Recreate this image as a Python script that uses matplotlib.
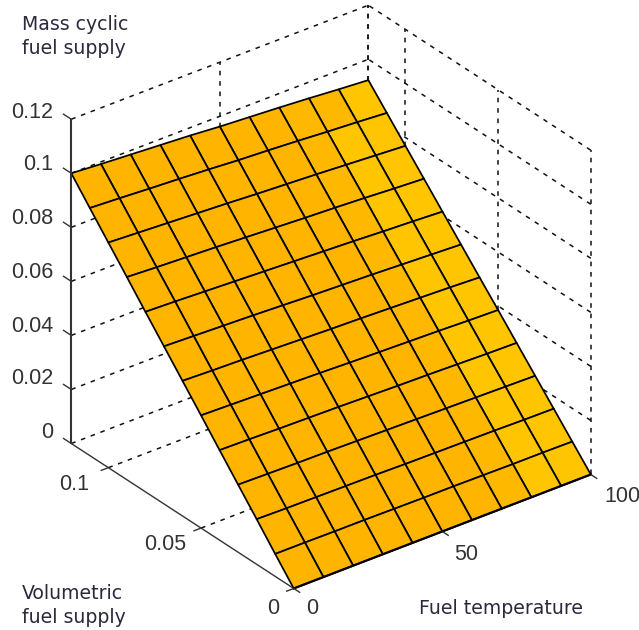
import numpy as np
import matplotlib
matplotlib.use("Agg")
import matplotlib.pyplot as plt

W, H = 639, 630

# fuel temperature (columns) and volumetric fuel supply (rows)
temperature = [0, 10, 20, 30, 40, 50, 60, 70, 80, 90, 100]
volumetric = [0, 0.01, 0.02, 0.03, 0.04, 0.05, 0.06, 0.07, 0.08, 0.09, 0.10, 0.11, 0.12]
# mass cyclic fuel supply
mass = [
    [0, 0, 0, 0, 0, 0, 0, 0, 0, 0, 0],
    [.0083, .0083, .0082, .0082, .0081, .0080, .0080, .0079, .0078, .0078, .0077],
    [.0167, .0165, .0164, .0163, .0162, .0160, .0159, .0158, .0157, .0155, .0154],
    [.0250, .0248, .0246, .0245, .0243, .0241, .0239, .0237, .0235, .0233, .0231],
    [.0333, .0331, .0328, .0326, .0324, .0321, .0318, .0316, .0313, .0310, .0308],
    [.0417, .0414, .0411, .0408, .0405, .0401, .0398, .0395, .0392, .0388, .0385],
    [.0500, .0496, .0493, .0489, .0485, .0481, .0478, .0474, .0470, .0466, .0461],
    [.0583, .0579, .0575, .0571, .0566, .0561, .0557, .0553, .0548, .0543, .0538],
    [.0666, .0662, .0657, .0652, .0647, .0642, .0637, .0632, .0626, .0621, .0615],
    [.0750, .0744, .0739, .0734, .0728, .0722, .0716, .0711, .0705, .0698, .0692],
    [.0833, .0827, .0821, .0815, .0809, .0802, .0796, .0790, .0783, .0776, .0769],
    [.0916, .0910, .0903, .0897, .0890, .0882, .0876, .0869, .0861, .0854, .0846],
    [.1000, .0992, .0985, .0978, .0971, .0962, .0955, .0948, .0940, .0931, .0923],
]
# colour level of every cell
levels = [
    [0, 0, 0, 0, 0, 0, 0, 1, 2, 2],
    [0, 0, 0, 0, 0, 0, 0, 1, 2, 2],
    [0, 0, 0, 0, 0, 0, 0, 1, 2, 2],
    [0, 0, 0, 0, 0, 0, 0, 1, 2, 2],
    [0, 0, 0, 0, 0, 0, 0, 1, 2, 2],
    [0, 0, 0, 0, 0, 0, 0, 1, 2, 2],
    [0, 0, 0, 0, 0, 0, 0, 1, 2, 2],
    [0, 0, 0, 0, 0, 0, 0, 1, 2, 2],
    [0, 0, 0, 0, 0, 0, 0, 1, 2, 2],
    [0, 0, 0, 0, 0, 0, 0, 1, 2, 2],
    [0, 0, 0, 0, 0, 0, 0, 1, 2, 2],
    [0, 0, 0, 0, 0, 0, 0, 1, 1, 2],
]
palette = ["#FFB400", "#FFB800", "#FFC500"]

z_ticks = [0, 0.02, 0.04, 0.06, 0.08, 0.1, 0.12]
z_labels = ["0", "0.02", "0.04", "0.06", "0.08", "0.1", "0.12"]
z_label_y = [432, 378, 326, 272, 219, 165, 112]
v_ticks = [0, 0.05, 0.1]
t_ticks = [0, 50, 100]


def px(x, y):
    return x / W, 1 - y / H


fig = plt.figure(figsize=(W / 100, H / 100), dpi=100)
side = 624.6
ax = fig.add_axes([10.3 / W, 12.4 / H, side / W, side / H], projection="3d",
                  proj_type="ortho", computed_zorder=False)
ax.set_box_aspect((374, 365, 374))
ax.view_init(elev=30, azim=-127.5)
ax.set_xlim(0, 100)
ax.set_ylim(0, 0.12)
ax.set_zlim(0, 0.12)
ax.set_axis_off()
ax.patch.set_alpha(0)

dash = dict(color="#111111", lw=1.1, ls=(0, (3, 3.8)), zorder=1)
tmax, vmax = 100, 0.12
# walls behind the surface
for z in z_ticks:
    ax.plot([0, tmax], [vmax, vmax], [z, z], **dash)
    ax.plot([tmax, tmax], [0, vmax], [z, z], **dash)
for t in [50, 100]:
    ax.plot([t, t], [vmax, vmax], [0, 0.12], **dash)
for v in [0, 0.05, 0.1, 0.12]:
    ax.plot([tmax, tmax], [v, v], [0, 0.12], **dash)
# floor
for v in [0.05, 0.1]:
    ax.plot([0, tmax], [v, v], [0, 0], **dash)

T, V = np.meshgrid(temperature, volumetric)
colors = np.array(palette)[np.array(levels)]
ax.plot_surface(T, V, np.array(mass), rstride=1, cstride=1, facecolors=colors,
                edgecolor="#000000", linewidth=1.25, shade=False, antialiased=True, zorder=2)

# solid axes
solid = dict(color="#333333", zorder=3, solid_capstyle="butt")
ax.plot([0, 0], [vmax, vmax], [0, 0.12], lw=1.5, **solid)
ax.plot([0, 0], [0, vmax], [0, 0], lw=1.0, **solid)
ax.plot([0, tmax], [0, 0], [0, 0], lw=1.6, color="#000000", zorder=3)
for z in z_ticks:
    ax.plot([0, 0], [vmax, vmax + 0.0045], [z, z], lw=1.0, **solid)
for v in v_ticks:
    ax.plot([0, -2.6], [v, v], [0, 0], lw=1.0, **solid)
for t in t_ticks:
    ax.plot([t, t], [0, -0.0035], [0, 0], lw=1.0, **solid)

tick_font = dict(family="Liberation Sans", fontsize=15.5, color="#333333", va="center")
for lab, y in zip(z_labels, z_label_y):
    fig.text(*px(53, y), lab, ha="right", **tick_font)
fig.text(*px(74, 485), "0.1", ha="center", **tick_font)
fig.text(*px(165, 545), "0.05", ha="center", **tick_font)
fig.text(*px(273, 608), "0", ha="center", **tick_font)
fig.text(*px(312, 608), "0", ha="center", **tick_font)
fig.text(*px(466, 554), "50", ha="center", **tick_font)
fig.text(*px(622, 497), "100", ha="center", **tick_font)

label_font = dict(family="DejaVu Sans", fontsize=13.6, color="#2a2a3c", va="baseline", ha="left")
fig.text(*px(22, 30), "Mass cyclic", **label_font)
fig.text(*px(22, 54), "fuel supply", **label_font)
fig.text(*px(22, 599), "Volumetric", **label_font)
fig.text(*px(22, 623), "fuel supply", **label_font)
fig.text(*px(419, 614), "Fuel temperature", **label_font)

fig.savefig("out.png", dpi=100)
